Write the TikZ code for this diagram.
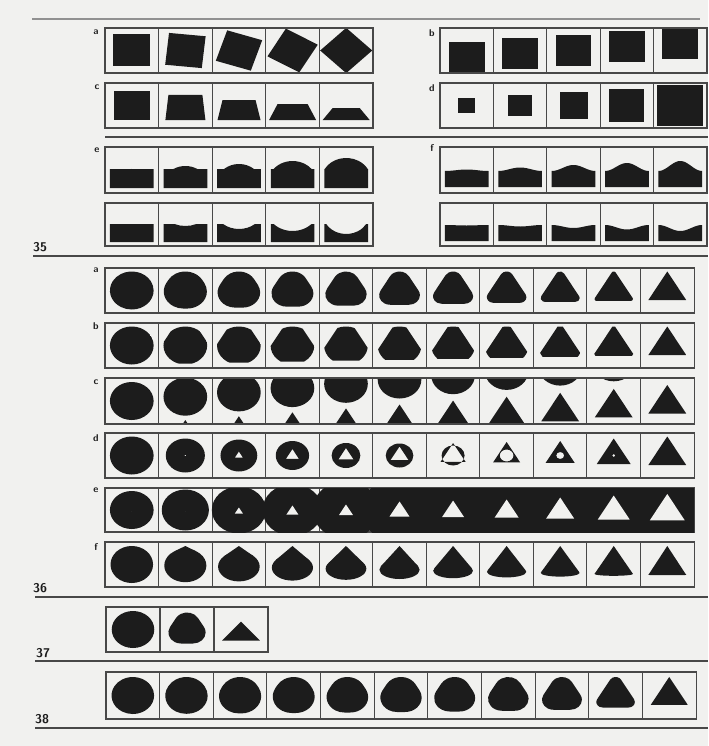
\documentclass[tikz,border=0pt]{standalone}
\definecolor{ink}{RGB}{28,28,28}
\definecolor{rule}{RGB}{72,72,72}
\definecolor{paper}{RGB}{241,241,239}
\tikzset{
  box/.style={draw=rule, line width=1.5pt},
  hrule/.style={draw=rule, line width=2pt},
  shp/.style={xscale=1.15, yscale=-1},
  tag/.style={font=\sffamily\bfseries\fontsize{14}{14}\selectfont, text=ink, inner sep=0pt},
  fignum/.style={font=\sffamily\bfseries\fontsize{18}{18}\selectfont, text=ink, inner sep=0pt, anchor=west},
}
\newcommand{\cellrow}[5]{%
  \draw[box] (#1,#2) rectangle ({#1+#3*#4},{#2+#5});
  \pgfmathtruncatemacro{\lastcell}{#3-1}
  \foreach \ci in {1,...,\lastcell}
    \draw[box] ({#1+\ci*#4},#2) -- ({#1+\ci*#4},{#2+#5});
}
\newcommand{\roundtri}[2]{%
  \fill[ink] ({#1*cos(90)+#2*cos(30)},{#1*sin(90)+#2*sin(30)})
    arc[start angle=30,end angle=150,radius=#2]
    -- ({#1*cos(210)+#2*cos(150)},{#1*sin(210)+#2*sin(150)})
    arc[start angle=150,end angle=270,radius=#2]
    -- ({#1*cos(330)+#2*cos(270)},{#1*sin(330)+#2*sin(270)})
    arc[start angle=270,end angle=390,radius=#2] -- cycle;}
\begin{document}
\begin{tikzpicture}[x=0.5mm, y=-0.5mm]
\fill[paper] (0,0) rectangle (708,746);

% 35
\draw[hrule, draw=rule!60] (32,19) -- (700,19);
\foreach \ang [count=\ci from 0] in {0,6,18,30,45}
  \fill[ink, shift={({105+(\ci+0.5)*53.6},50.5)}, shp, rotate=\ang] (-16,-16) rectangle (16,16);
\cellrow{105}{28}{5}{53.6}{45}
\foreach \ci in {0,...,4}
  \fill[ink, shift={({440+(\ci+0.5)*53.4},{57.5-3.5*\ci})}, shp] (-15.5,-15.5) rectangle (15.5,15.5);
\cellrow{440}{28}{5}{53.4}{45}
\foreach \ty/\tw/\bw [count=\ci from 0] in {91/36/36, 95/34/40, 100/33/43, 104/30/47, 108/27/47}
  \fill[ink, shift={({105+(\ci+0.5)*53.6},0)}] ({-\bw/2},120) -- ({\bw/2},120) -- ({\tw/2},\ty) -- ({-\tw/2},\ty) -- cycle;
\cellrow{105}{83}{5}{53.6}{45}
\foreach \w/\h [count=\ci from 0] in {17/15, 24/21, 28/27, 35/32, 46/40}
  \fill[ink, shift={({440+(\ci+0.5)*53.4},105.5)}] ({-\w/2},{-\h/2}) rectangle ({\w/2},{\h/2});
\cellrow{440}{83}{5}{53.4}{45}
\node[tag] (tag35a) at (96,32) {a};
\node[tag] (tag35b) at (432,33) {b};
\node[tag] (tag35c) at (97,87) {c};
\node[tag] (tag35d) at (432,88) {d};

\draw[hrule] (105,137) -- (708,137);
\foreach \ch/\bh [count=\ci from 0] in {0.1/0.05, 10.4/3, 13/5, 16.5/8, 18.7/11} {
  \pgfmathsetmacro\arcr{(\ch*\ch+\bh*\bh)/(2*\bh)}
  \pgfmathsetmacro\arcg{atan2(\arcr-\bh,\ch)}
  \fill[ink, shift={({105+(\ci+0.5)*53.6},169)}, shp] (-19,-19) -- (-19,0) -- (-\ch,0)
    arc[start angle={180-\arcg}, end angle=\arcg, radius=\arcr] -- (19,0) -- (19,-19) -- cycle;
}
\cellrow{105}{147}{5}{53.6}{46}
\foreach \ch/\bh [count=\ci from 0] in {0.1/0.05, 9.6/2, 13.9/5, 16.5/7, 17.4/10} {
  \pgfmathsetmacro\arcr{(\ch*\ch+\bh*\bh)/(2*\bh)}
  \pgfmathsetmacro\arcg{atan2(\arcr-\bh,\ch)}
  \fill[ink, shift={({105+(\ci+0.5)*53.6},224)}, shp] (-19,-18) -- (-19,0) -- (-\ch,0)
    arc[start angle={180+\arcg}, end angle={360-\arcg}, radius=\arcr] -- (19,0) -- (19,-18) -- cycle;
}
\cellrow{105}{203}{5}{53.6}{43}
\foreach \bh [count=\ci from 0] in {1.5, 3.5, 6, 8, 10}
  \fill[ink, shift={({440+(\ci+0.5)*53.4},171)}, shp] (-19,-16)
    -- plot[domain=-19:19, samples=31, variable=\xx] (\xx, {\bh*(0.5+0.5*cos(180*\xx/19))}) -- (19,-16) -- cycle;
\cellrow{440}{147}{5}{53.4}{46}
\foreach \bh [count=\ci from 0] in {0.5, 1.5, 3, 4.5, 6}
  \fill[ink, shift={({440+(\ci+0.5)*53.4},225)}, shp] (-19,-16)
    -- plot[domain=-19:19, samples=31, variable=\xx] (\xx, {-\bh*(0.5+0.5*cos(180*\xx/19))}) -- (19,-16) -- cycle;
\cellrow{440}{203}{5}{53.4}{43}
\node[tag] (tag35e) at (97,150) {e};
\node[tag] (tag35f) at (432,148) {f};
\node[fignum] (num35) at (33,247.5) {35};
\draw[hrule] (33,256) -- (708,256);

% 36
\foreach \ci in {0,...,10} {
  \pgfmathsetmacro\cx{105+(\ci+0.5)*53.55}
  \pgfmathsetmacro\tsz{1.9*\ci}
  \pgfmathsetmacro\rc{max(19-\tsz,0.01)}
  \begin{scope}[shift={(\cx,290.5)}, shp]
    \roundtri{\tsz}{\rc}
  \end{scope}
}
\cellrow{105}{268}{11}{53.55}{45}
\foreach \ci in {0,...,10} {
  \pgfmathsetmacro\cx{105+(\ci+0.5)*53.55}
  \pgfmathsetmacro\tc{38*(1-0.05*\ci)}
  \begin{scope}[shift={(\cx,345.5)}, shp]
    \clip (90:\tc) -- (210:\tc) -- (330:\tc) -- cycle;
    \fill[ink] (0,0) circle[radius=19];
  \end{scope}
}
\cellrow{105}{323}{11}{53.55}{45}
\foreach \ci in {0,...,10} {
  \pgfmathsetmacro\cx{105+(\ci+0.5)*53.55}
  \begin{scope}[shift={(\cx,401)}, shp]
    \clip (-23.3,-23) rectangle (23.3,23);
    \fill[ink] (0,{4.3*\ci}) circle[radius=19];
    \fill[ink, shift={(0,{-42+3.9*\ci})}] (90:19) -- (210:19) -- (330:19) -- cycle;
  \end{scope}
}
\cellrow{105}{378}{11}{53.55}{46}
\foreach \rc/\tc [count=\ci from 0] in {19/0.01, 17/1, 16/4, 14.5/6.5, 12.5/7.5, 12/9, 10/12.5, 6/13.5, 3.5/14.5, 1.5/17, 0.01/19} {
  \pgfmathsetmacro\cx{105+(\ci+0.5)*53.55}
  \fill[ink, even odd rule, shift={(\cx,455.5)}, shp] (0,0) circle[radius=\rc] (90:\tc) -- (210:\tc) -- (330:\tc) -- cycle;
}
\cellrow{105}{433}{11}{53.55}{45}
\cellrow{105}{488}{11}{53.55}{44}
\begin{scope}
  \clip (105,488) rectangle (694,532);
  \foreach \rc [count=\ci from 0] in {19, 20.5, 23.5, 26, 29, 33, 33, 33, 33, 33, 33} {
    \pgfmathsetmacro\cx{105+(\ci+0.5)*53.55}
    \fill[ink, shift={(\cx,510)}, shp] (0,0) circle[radius=\rc];
  }
\end{scope}
\foreach \tc [count=\ci from 0] in {0.01, 0.01, 4, 6, 7, 10, 11, 12, 14, 16, 17.5} {
  \pgfmathsetmacro\cx{105+(\ci+0.5)*53.55}
  \fill[paper, shift={(\cx,511.5)}, shp] (90:\tc) -- (210:\tc) -- (330:\tc) -- cycle;
}
\foreach \ci in {0,...,10} {
  \pgfmathsetmacro\cx{105+(\ci+0.5)*53.55}
  \pgfmathsetmacro\ry{max(18.5*(1-\ci/10),0.01)}
  \pgfmathsetmacro\rx{18.5-0.2*\ci}
  \pgfmathsetmacro\yc{-(18.5-0.8*\ci)+\ry}
  \pgfmathsetmacro\hh{18.5-\yc}
  \pgfmathsetmacro\tx{\rx*sqrt(max(1-(\ry/\hh)^2,0))}
  \pgfmathsetmacro\ty{\yc+\ry*\ry/\hh}
  \begin{scope}[shift={(\cx,564.5)}, shp]
    \fill[ink] (0,\yc) ellipse[x radius=\rx, y radius=\ry];
    \fill[ink] (0,18.5) -- (\tx,\ty) -- (-\tx,\ty) -- cycle;
  \end{scope}
}
\cellrow{105}{542}{11}{53.55}{45}
\node[tag] (tag36a) at (96,270) {a};
\node[tag] (tag36b) at (96,326) {b};
\node[tag] (tag36c) at (96,382) {c};
\node[tag] (tag36d) at (96,438) {d};
\node[tag] (tag36e) at (96,490) {e};
\node[tag] (tag36f) at (96,547) {f};
\node[fignum] (num36) at (33,588) {36};
\draw[hrule] (35,597) -- (708,597);

% 37
\begin{scope}[shift={(133,629.5)}, shp]
  \fill[ink] (0,0) circle[radius=18.5];
\end{scope}
\begin{scope}[shift={(187,629.5)}, shp]
  \roundtri{6}{11}
\end{scope}
\fill[ink, shift={(241,629.5)}, shp] (0,8) -- (-16.5,-11) -- (16.5,-11) -- cycle;
\cellrow{106}{607}{3}{54}{45}
\node[fignum] (num37) at (36,653) {37};
\draw[hrule] (35,661) -- (708,661);

% 38
\foreach \tsz [count=\ci from 0] in {0, 0.5, 1.2, 2, 3, 4, 5, 6.5, 8.5, 13, 18.5} {
  \pgfmathsetmacro\cx{106+(\ci+0.5)*53.64}
  \pgfmathsetmacro\rc{max(18.5-\tsz,0.01)}
  \begin{scope}[shift={(\cx,695.5)}, shp]
    \roundtri{\tsz}{\rc}
  \end{scope}
}
\cellrow{106}{672}{11}{53.64}{47}
\node[fignum] (num38) at (35,719.5) {38};
\draw[hrule] (35,728) -- (708,728);
\end{tikzpicture}
\end{document}
